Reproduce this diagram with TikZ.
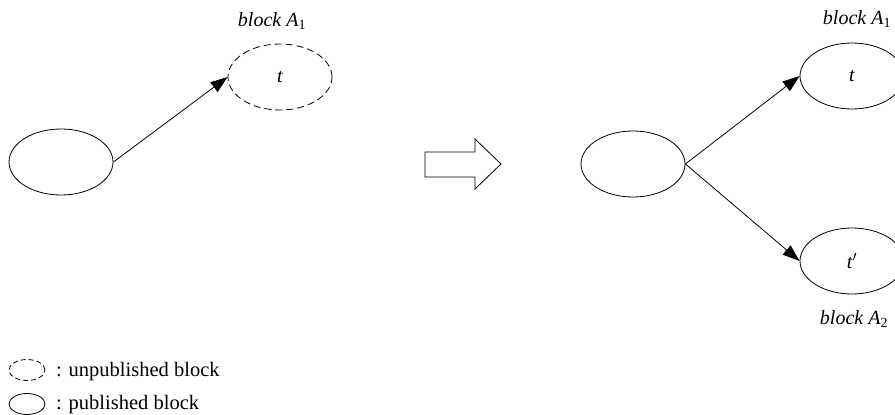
\documentclass[tikz,border=0pt]{standalone}
\usepackage{fontspec}
\setmainfont{Liberation Serif}
\usetikzlibrary{shapes.geometric,arrows.meta}
\tikzset{
  blk/.style={draw, ellipse, line width=0.8pt, minimum width=104pt, minimum height=66pt, inner sep=0pt, font=\fontsize{20}{24}\selectfont\itshape},
  pending/.style={blk, dash pattern=on 7pt off 4pt},
  lgd/.style={draw, ellipse, line width=0.8pt, minimum width=36pt, minimum height=21pt, inner sep=0pt},
  lgdpending/.style={lgd, dash pattern=on 5pt off 3pt},
  link/.style={line width=0.8pt, -{Triangle[length=17pt,width=12pt]}},
  tag/.style={anchor=base, font=\fontsize{20}{24}\selectfont\itshape, inner sep=0pt},
  legendtext/.style={anchor=base west, font=\fontsize{20.5}{24}\selectfont, inner sep=0pt}
}
\newcommand{\idx}[1]{\textsubscript{\upshape #1}}
\begin{document}
\begin{tikzpicture}[x=1pt,y=-1pt]
  \clip (0,0) rectangle (895,415);

  % before: a published block pointing to an unpublished one
  \node[blk] (p1) at (61,162) {};
  \node[pending] (u1) at (280,77) {t};
  \node[tag] (l1) at (272,26) {block A\idx{1}};
  \draw[link] (p1.east) -- (u1.west);

  % transition arrow
  \draw[line width=0.8pt] (425,152) -- (475,152) -- (475,139) -- (501,164)
    -- (475,189) -- (475,177) -- (425,177) -- cycle;

  % after: the block forks into two published blocks
  \node[blk] (p2) at (633,164) {};
  \node[blk] (b1) at (852,76) {t};
  \node[blk] (b2) at (852,261) {t$'$};
  \node[tag] (l2) at (857,24) {block A\idx{1}};
  \node[tag] (l3) at (854,324) {block A\idx{2}};
  \draw[link] (p2.east) -- (b1.west);
  \draw[link] (p2.east) -- (b2.west);

  % legend
  \node[lgdpending] (k1) at (27,370) {};
  \node[legendtext] (k1t) at (56,376) {: unpublished block};
  \node[lgd] (k2) at (27,404) {};
  \node[legendtext] (k2t) at (56,409) {: published block};
\end{tikzpicture}
\end{document}
